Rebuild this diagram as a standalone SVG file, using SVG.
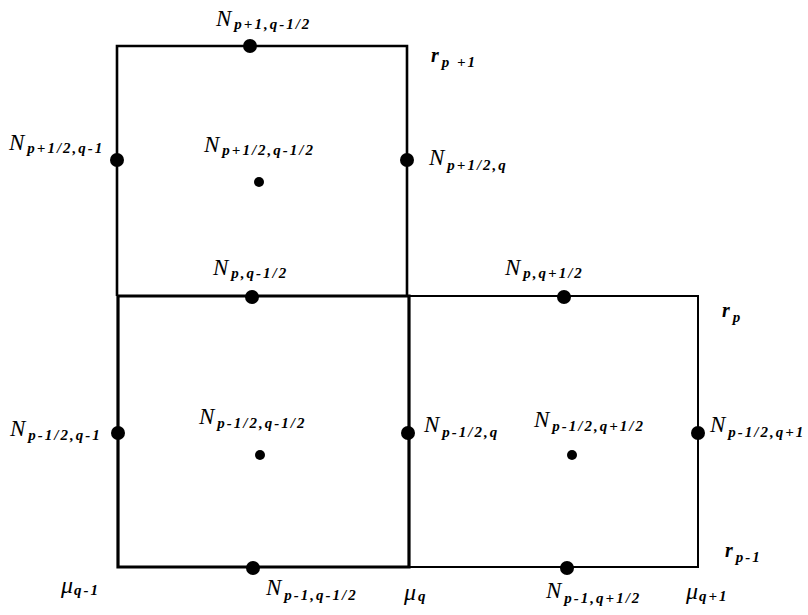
<svg xmlns="http://www.w3.org/2000/svg" width="808" height="615" viewBox="0 0 808 615">
<style>
.t{font-family:"Liberation Serif","Times New Roman",serif;font-style:italic;font-size:23px;fill:#000}
.s{font-size:15px;font-weight:bold;letter-spacing:2px}
.r{font-weight:bold;font-size:20px}
.m{font-size:24px}
.e{fill:#000}
.c{fill:#000}
.l2{stroke:#000;stroke-width:2;fill:none}
.l25{stroke:#000;stroke-width:2.6;fill:none}
.l3{stroke:#000;stroke-width:3.2;fill:none}
</style>
<rect width="808" height="615" fill="#fff"/>
<g id="connectors">
<path class="l25" d="M117,296 V46 H407 V296"/>
<path class="l2" d="M408,296 H698 V567 H408"/>
<path class="l3" d="M118,296 V567 H409 V296 H118"/>
</g>
<g id="n-p+1-q-1/2"><circle class="e" cx="250" cy="46" r="7"/><text class="t" x="216" y="26">N<tspan class="s" dx="3" dy="3">p+1,q-1/2</tspan></text></g>
<g id="n-p+1/2-q-1"><circle class="e" cx="117" cy="160" r="7"/><text class="t" x="9" y="150">N<tspan class="s" dx="3" dy="3">p+1/2,q-1</tspan></text></g>
<g id="n-p+1/2-q-1/2"><circle class="c" cx="259" cy="182" r="5"/><text class="t" x="204" y="152">N<tspan class="s" dx="3" dy="3">p+1/2,q-1/2</tspan></text></g>
<g id="n-p+1/2-q"><circle class="e" cx="407" cy="160" r="7"/><text class="t" x="429" y="165">N<tspan class="s" dx="3" dy="5">p+1/2,q</tspan></text></g>
<g id="r-p+1"><text class="t r" x="431" y="62">r<tspan class="s" dx="3" dy="5" letter-spacing="1">p +1</tspan></text></g>
<g id="n-p-q-1/2"><circle class="e" cx="252" cy="297" r="7"/><text class="t" x="213" y="275">N<tspan class="s" dx="3" dy="3">p,q-1/2</tspan></text></g>
<g id="n-p-q+1/2"><circle class="e" cx="564" cy="297" r="7"/><text class="t" x="505" y="275">N<tspan class="s" dx="3" dy="3">p,q+1/2</tspan></text></g>
<g id="r-p"><text class="t r" x="722" y="317">r<tspan class="s" dx="3" dy="5">p</tspan></text></g>
<g id="n-p-1/2-q-1"><circle class="e" cx="118" cy="433" r="7"/><text class="t" x="10" y="436">N<tspan class="s" dx="3" dy="4">p-1/2,q-1</tspan></text></g>
<g id="n-p-1/2-q-1/2"><circle class="c" cx="260" cy="455" r="5"/><text class="t" x="199" y="424">N<tspan class="s" dx="3" dy="4">p-1/2,q-1/2</tspan></text></g>
<g id="n-p-1/2-q"><circle class="e" cx="408" cy="433" r="7"/><text class="t" x="424" y="432">N<tspan class="s" dx="3" dy="5">p-1/2,q</tspan></text></g>
<g id="n-p-1/2-q+1/2"><circle class="c" cx="572" cy="455" r="5"/><text class="t" x="534" y="427">N<tspan class="s" dx="3" dy="4">p-1/2,q+1/2</tspan></text></g>
<g id="n-p-1/2-q+1"><circle class="e" cx="698" cy="433" r="7"/><text class="t" x="710" y="432">N<tspan class="s" dx="3" dy="5">p-1/2,q+1</tspan></text></g>
<g id="r-p-1"><text class="t r" x="725" y="557">r<tspan class="s" dx="3" dy="5">p-1</tspan></text></g>
<g id="n-p-1-q-1/2"><circle class="e" cx="253" cy="568" r="7"/><text class="t" x="266" y="595">N<tspan class="s" dx="3" dy="5">p-1,q-1/2</tspan></text></g>
<g id="n-p-1-q+1/2"><circle class="e" cx="567" cy="568" r="7"/><text class="t" x="546" y="598">N<tspan class="s" dx="3" dy="5">p-1,q+1/2</tspan></text></g>
<g id="mu-q-1"><text class="t m" x="61" y="593">μ<tspan class="s" dx="1" dy="2">q-1</tspan></text></g>
<g id="mu-q"><text class="t m" x="404" y="600">μ<tspan class="s" dx="2" dy="1">q</tspan></text></g>
<g id="mu-q+1"><text class="t m" x="686" y="599">μ<tspan class="s" dx="1" dy="2">q+1</tspan></text></g>
</svg>
